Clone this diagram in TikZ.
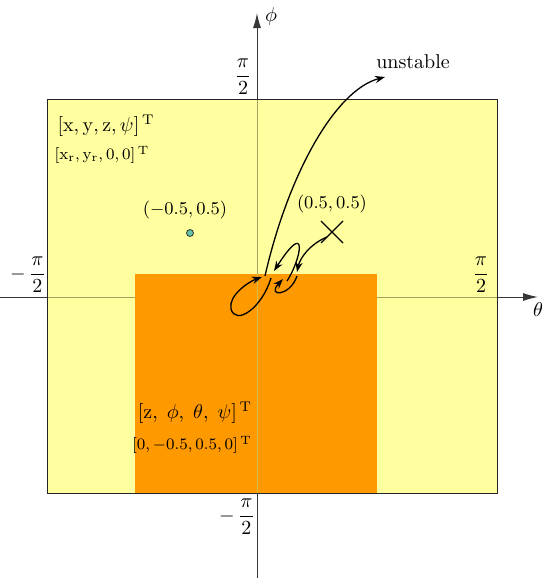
\documentclass[tikz,border=0pt]{standalone}
\usetikzlibrary{arrows.meta}
\definecolor{yel}{RGB}{255,255,160}
\definecolor{org}{RGB}{255,153,0}
\definecolor{dotc}{RGB}{102,194,165}
\definecolor{axc}{RGB}{55,55,55}
\definecolor{axy}{RGB}{165,160,95}
\definecolor{axo}{RGB}{215,190,70}
\newcommand{\halfpi}{{\displaystyle\frac{\pi}{2}}}
\begin{document}
\begin{tikzpicture}[x=0.5pt,y=-0.5pt,
  axis/.style={draw=axc,line width=0.5pt},
  axarrow/.style={axis,-{Latex[length=7.5pt,width=4pt]}},
  traj/.style={draw=black,line width=0.65pt,-{Stealth[length=5pt,width=3.6pt]}},
  lbl/.style={inner sep=0pt}]
\useasboundingbox (0,0) rectangle (544,578);
% axes
\coordinate (xa) at (0,297);
\coordinate (xb) at (538,297);
\coordinate (ya) at (257,578);
\coordinate (yb) at (257,13);
\draw[axarrow] (xa) -- (xb);
\draw[axarrow] (ya) -- (yb);
% regions
\coordinate (y1) at (47,99);
\coordinate (y2) at (497,493);
\coordinate (o1) at (135,274);
\coordinate (o2) at (377,493);
\fill[yel] (y1) rectangle (y2);
\coordinate (hy1) at (47,297);
\coordinate (hy2) at (135,297);
\coordinate (hy3) at (377,297);
\coordinate (hy4) at (497,297);
\coordinate (vy1) at (257,99);
\coordinate (vy2) at (257,274);
\draw[draw=axy,line width=0.5pt] (hy1) -- (hy2) (hy3) -- (hy4) (vy1) -- (vy2);
\fill[org] (o1) rectangle (o2);
\coordinate (ov1) at (257,274);
\coordinate (ov2) at (257,493);
\draw[draw=axo,line width=0.5pt] (ov1) -- (ov2);
\draw[line width=0.5pt,draw=black!85] (y1) rectangle (y2);
% axis labels
\node[lbl] (phi) at (271,16) {$\phi$};
\node[lbl] (theta) at (538,310) {$\theta$};
\node[lbl] (pt) at (243,77) {$\halfpi$};
\node[lbl] (pl) at (28,275) {$-\,\halfpi$};
\node[lbl] (pr) at (481,275) {$\halfpi$};
\node[lbl] (pb) at (237,517) {$-\,\halfpi$};
% texts
\node[lbl] (t1) at (106,126) {$[\mathrm{x},\mathrm{y},\mathrm{z},\psi]^{\,\mathrm{T}}$};
\node[lbl] (t2) at (102,155) {\footnotesize$[\mathrm{x}_{\mathrm{r}},\mathrm{y}_{\mathrm{r}},0,0]^{\,\mathrm{T}}$};
\node[lbl] (t3) at (195,413) {$[\mathrm{z},\;\phi,\;\theta,\;\psi]^{\,\mathrm{T}}$};
\node[lbl] (t4) at (192,445) {\footnotesize$[0,-0.5,0.5,0]^{\,\mathrm{T}}$};
\node[lbl] (lm) at (185,210) {\small$(-0.5,0.5)$};
\node[lbl] (lp) at (332,204) {\small$(0.5,0.5)$};
\node[lbl] (un) at (413,62) {unstable};
% point
\node[circle,draw=black!80,fill=dotc,inner sep=0pt,minimum size=3.5pt,line width=0.4pt] (dot) at (190,233) {};
% cross
\coordinate (c1) at (321,221);
\coordinate (c2) at (343,243);
\coordinate (c3) at (321,243);
\coordinate (c4) at (343,221);
\draw[line width=0.65pt] (c1) -- (c2) (c3) -- (c4);
% trajectory
\coordinate (s0) at (327,237);
\coordinate (s1) at (297,272);
\coordinate (s1b) at (297,276);
\coordinate (s2) at (283,279);
\coordinate (s2b) at (287,281);
\coordinate (s3) at (274,271);
\coordinate (s3b) at (271,278);
\coordinate (s3c) at (231,309);
\coordinate (s4) at (262,277);
\coordinate (s4b) at (265,276);
\coordinate (s5) at (385,77);
\draw[traj] (s0) .. controls (310,244) and (300,258) .. (s1);
\draw[traj] (s1b) .. controls (290,297) and (266,297) .. (s2);
\draw[traj] (s2b) .. controls (302,258) and (308,218) .. (s3);
\draw[line width=0.65pt] (s3b) .. controls (262,308) and (236,326) .. (s3c);
\draw[traj] (s3c) .. controls (228,296) and (248,282) .. (s4);
\draw[traj] (s4b) .. controls (288,175) and (335,90) .. (s5);
\end{tikzpicture}
\end{document}
